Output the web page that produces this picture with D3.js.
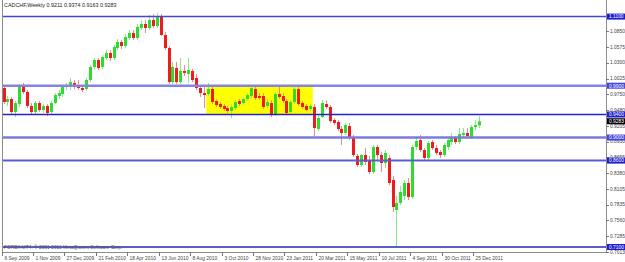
<!DOCTYPE html>
<html>
<head>
<meta charset="utf-8">
<script src="https://cdn.jsdelivr.net/npm/d3@7"></script>
<style>
  body { margin: 0; background: #ffffff; }
  svg { display: block; font-family: "Liberation Sans", Arial, sans-serif; }
</style>
</head>
<body>
<svg id="chart" width="625" height="262"></svg>
<script>
const titleText = "CADCHF,Weekly  0.9211 0.9374 0.9163 0.9283";
const copyrightText = "FOREX MT4, \u00a9 2001-2011 MetaQuotes Software Corp.";

// weekly bars, 6 Sep 2009 .. 1 Jan 2012
const opens = [
  0.9860, 0.9617, 0.9669, 0.9443, 0.9582, 0.9895, 0.9791, 0.9548, 0.9443, 0.9600,
  0.9478, 0.9548, 0.9443, 0.9600, 0.9721, 0.9756, 0.9877, 0.9895, 0.9947, 0.9895,
  0.9860, 0.9843, 0.9999, 1.0225, 1.0346, 1.0225, 1.0381, 1.0468, 1.0381, 1.0554,
  1.0659, 1.0589, 1.0728, 1.0815, 1.0728, 1.0902, 1.0971, 1.0902, 1.1041, 1.0936,
  1.1110, 1.0780, 1.0554, 0.9964, 1.0207, 0.9964, 1.0155, 1.0103, 1.0155, 1.0034,
  0.9860, 0.9773, 0.9756, 0.9843, 0.9634, 0.9582, 0.9548, 0.9513, 0.9461, 0.9513,
  0.9634, 0.9600, 0.9669, 0.9721, 0.9843, 0.9721, 0.9721, 0.9548, 0.9600, 0.9391,
  0.9756, 0.9721, 0.9634, 0.9443, 0.9617, 0.9843, 0.9600, 0.9548, 0.9496, 0.9530,
  0.9148, 0.9357, 0.9582, 0.9530, 0.9305, 0.9270, 0.9148, 0.9079, 0.9200, 0.9009,
  0.8680, 0.8523, 0.8697, 0.8610, 0.8402, 0.8836, 0.8697, 0.8558, 0.8645, 0.8263,
  0.7742, 0.7864, 0.7985, 0.8211, 0.7968, 0.8836, 0.8957, 0.8784, 0.8645, 0.8923,
  0.8819, 0.8749, 0.8697, 0.8836, 0.8923, 0.8992, 0.8923, 0.9044, 0.9079, 0.9009,
  0.9183, 0.9211
];
const highs = [
  0.9895, 0.9721, 0.9704, 0.9634, 0.9930, 0.9947, 0.9825, 0.9600, 0.9634, 0.9634,
  0.9582, 0.9582, 0.9634, 0.9773, 0.9825, 0.9912, 0.9947, 1.0034, 0.9999, 0.9999,
  0.9912, 1.0034, 1.0259, 1.0381, 1.0381, 1.0433, 1.0520, 1.0520, 1.0607, 1.0711,
  1.0693, 1.0798, 1.0867, 1.0867, 1.0971, 1.1041, 1.1041, 1.1127, 1.1145, 1.1162,
  1.1145, 1.0832, 1.0589, 1.0311, 1.0311, 1.0381, 1.0259, 1.0381, 1.0190, 1.0103,
  0.9895, 0.9895, 0.9947, 0.9895, 0.9669, 0.9617, 0.9582, 0.9548, 0.9582, 0.9652,
  0.9669, 0.9704, 0.9773, 0.9912, 0.9877, 0.9773, 0.9773, 0.9669, 0.9652, 0.9791,
  0.9895, 0.9773, 0.9669, 0.9652, 0.9877, 0.9895, 0.9634, 0.9582, 0.9582, 0.9582,
  0.9409, 0.9652, 0.9652, 0.9565, 0.9339, 0.9305, 0.9200, 0.9253, 0.9253, 0.9044,
  0.8714, 0.8714, 0.8819, 0.8680, 0.8871, 0.8871, 0.8749, 0.8784, 0.8697, 0.8332,
  0.7985, 0.8159, 0.8263, 0.8298, 0.8871, 0.8992, 0.9044, 0.8819, 0.8940, 0.8957,
  0.8871, 0.8784, 0.8905, 0.8992, 0.9079, 0.9027, 0.9166, 0.9166, 0.9166, 0.9218,
  0.9305, 0.9374
];
const lows = [
  0.9582, 0.9548, 0.9391, 0.9357, 0.9530, 0.9756, 0.9513, 0.9409, 0.9409, 0.9443,
  0.9426, 0.9374, 0.9409, 0.9582, 0.9669, 0.9704, 0.9825, 0.9825, 0.9843, 0.9825,
  0.9791, 0.9808, 0.9964, 1.0190, 1.0173, 1.0190, 1.0346, 1.0329, 1.0346, 1.0520,
  1.0537, 1.0554, 1.0693, 1.0693, 1.0693, 1.0867, 1.0815, 1.0867, 1.0902, 1.0902,
  1.0763, 1.0520, 0.9930, 0.9930, 0.9930, 0.9930, 1.0068, 0.9947, 0.9964, 0.9825,
  0.9704, 0.9513, 0.9721, 0.9582, 0.9530, 0.9496, 0.9461, 0.9426, 0.9339, 0.9478,
  0.9548, 0.9565, 0.9634, 0.9687, 0.9652, 0.9652, 0.9496, 0.9513, 0.9357, 0.9374,
  0.9669, 0.9600, 0.9391, 0.9426, 0.9582, 0.9548, 0.9496, 0.9461, 0.9461, 0.9009,
  0.9114, 0.9339, 0.9496, 0.9253, 0.9218, 0.9114, 0.8871, 0.9044, 0.8957, 0.8662,
  0.8489, 0.8489, 0.8523, 0.8367, 0.8367, 0.8610, 0.8402, 0.8471, 0.8176, 0.7708,
  0.7100, 0.7829, 0.7916, 0.7916, 0.7933, 0.8784, 0.8749, 0.8610, 0.8610, 0.8784,
  0.8697, 0.8645, 0.8662, 0.8784, 0.8871, 0.8888, 0.8888, 0.9009, 0.8992, 0.8975,
  0.9131, 0.9163
];
const closes = [
  0.9617, 0.9669, 0.9443, 0.9600, 0.9895, 0.9791, 0.9548, 0.9443, 0.9600, 0.9478,
  0.9548, 0.9426, 0.9600, 0.9739, 0.9773, 0.9895, 0.9912, 0.9964, 0.9877, 0.9860,
  0.9825, 0.9999, 1.0225, 1.0346, 1.0207, 1.0398, 1.0468, 1.0381, 1.0572, 1.0659,
  1.0589, 1.0745, 1.0815, 1.0728, 1.0919, 1.0971, 1.0902, 1.1041, 1.0936, 1.1110,
  1.0780, 1.0554, 0.9964, 1.0225, 0.9964, 1.0155, 1.0121, 1.0173, 0.9999, 0.9860,
  0.9773, 0.9739, 0.9843, 0.9617, 0.9565, 0.9530, 0.9496, 0.9461, 0.9530, 0.9617,
  0.9582, 0.9669, 0.9739, 0.9860, 0.9687, 0.9687, 0.9530, 0.9617, 0.9391, 0.9756,
  0.9704, 0.9634, 0.9426, 0.9617, 0.9843, 0.9582, 0.9530, 0.9478, 0.9548, 0.9166,
  0.9339, 0.9600, 0.9530, 0.9287, 0.9253, 0.9148, 0.9079, 0.9218, 0.8992, 0.8697,
  0.8523, 0.8697, 0.8576, 0.8402, 0.8836, 0.8697, 0.8558, 0.8732, 0.8211, 0.7794,
  0.7864, 0.8055, 0.8211, 0.7968, 0.8836, 0.8940, 0.8784, 0.8645, 0.8905, 0.8819,
  0.8732, 0.8697, 0.8871, 0.8957, 0.9009, 0.8923, 0.9062, 0.9079, 0.9027, 0.9183,
  0.9218, 0.9283
];

// one label every 8 weekly bars
const dateLabels = [
  "6 Sep 2009", "1 Nov 2009", "27 Dec 2009", "21 Feb 2010", "18 Apr 2010", "13 Jun 2010",
  "8 Aug 2010", "3 Oct 2010", "28 Nov 2010", "23 Jan 2011", "20 Mar 2011", "15 May 2011",
  "10 Jul 2011", "4 Sep 2011", "30 Oct 2011", "25 Dec 2011"
];
const priceTicks = [1.0850, 1.0575, 1.0300, 1.0025, 0.9750, 0.9480, 0.9205, 0.8930,
  0.8655, 0.8380, 0.8105, 0.7835, 0.7560, 0.7285, 0.7013];
const levelPrices = [1.1100, 0.9900, 0.9400, 0.9000, 0.8600, 0.7100];
const levelColors = ["#4646d6", "#8484e2", "#2424c2", "#7a7ade", "#5c5cd2", "#2626bc"];
const levelWidths = [1.5, 2.5, 1.5, 2.5, 2, 1.5];
const boxBars = [51.6, 78.7];
const boxPrices = [0.9900, 0.9400];
const lastClose = 0.9283;

const svg = d3.select("#chart");
const plotLeft = 2, plotRight = 606, plotTop = 0, plotBottom = 252;
const fontSize = 4.9;

const x = d3.scaleLinear().domain([0, 121]).range([3.5, 479]);
const y = d3.scaleLinear().domain([0.7013, 1.1388]).range([plotBottom, plotTop]);

const bars = opens.map((o, i) => ({ i, o, h: highs[i], l: lows[i], c: closes[i] }));

// yellow rectangle (background object)
svg.append("rect")
  .attr("x", x(boxBars[0]))
  .attr("y", y(boxPrices[0]))
  .attr("width", x(boxBars[1]) - x(boxBars[0]))
  .attr("height", y(boxPrices[1]) - y(boxPrices[0]))
  .attr("fill", "#ffff00");

// candles
const candle = svg.append("g").selectAll("g")
  .data(bars)
  .join("g");

candle.append("line")
  .attr("x1", d => Math.round(x(d.i)) + 0.5)
  .attr("x2", d => Math.round(x(d.i)) + 0.5)
  .attr("y1", d => y(d.h))
  .attr("y2", d => y(d.l))
  .attr("stroke", d => d.c >= d.o ? "#8ae88a" : "#f08a8a")
  .attr("stroke-width", 1);

candle.append("rect")
  .attr("x", d => Math.round(x(d.i)) - 1)
  .attr("width", 3)
  .attr("y", d => y(Math.max(d.o, d.c)))
  .attr("height", d => Math.max(1, Math.abs(y(d.o) - y(d.c))))
  .attr("fill", d => d.c >= d.o ? "#2edc2e" : "#ee1c1c");

// horizontal level lines
svg.append("g").selectAll("line")
  .data(levelPrices)
  .join("line")
  .attr("x1", plotLeft)
  .attr("x2", plotRight)
  .attr("y1", d => y(d))
  .attr("y2", d => y(d))
  .attr("stroke", (d, i) => levelColors[i])
  .attr("stroke-width", (d, i) => levelWidths[i]);

// frame
svg.append("path")
  .attr("d", `M${plotLeft + 0.5},${plotTop} V${plotBottom + 0.5} H${plotRight + 0.5} V${plotTop}`)
  .attr("fill", "none")
  .attr("stroke", "#8c8c8c")
  .attr("stroke-width", 1);

// right price axis
const priceAxis = svg.append("g").attr("font-size", fontSize).attr("fill", "#444");
priceTicks.forEach(p => {
  priceAxis.append("line")
    .attr("x1", plotRight).attr("x2", plotRight + 3)
    .attr("y1", Math.round(y(p)) + 0.5).attr("y2", Math.round(y(p)) + 0.5)
    .attr("stroke", "#777");
  priceAxis.append("text")
    .attr("x", plotRight + 4)
    .attr("y", y(p) + 1.8)
    .text(p.toFixed(4));
});

// level labels on the scale
const labelG = svg.append("g").attr("font-size", fontSize);
levelPrices.forEach((p, i) => {
  labelG.append("rect")
    .attr("x", plotRight + 1).attr("y", y(p) - 3)
    .attr("width", 18).attr("height", 6)
    .attr("fill", i === 1 || i === 3 ? "#4646dc" : "#1e1ed0");
  labelG.append("text")
    .attr("x", plotRight + 3).attr("y", y(p) + 1.8)
    .attr("fill", "#ffffff")
    .text(p.toFixed(4));
});
labelG.append("rect")
  .attr("x", plotRight + 1).attr("y", y(lastClose) - 3)
  .attr("width", 18).attr("height", 6)
  .attr("fill", "#000000");
labelG.append("text")
  .attr("x", plotRight + 3).attr("y", y(lastClose) + 1.8)
  .attr("fill", "#ffffff")
  .text(lastClose.toFixed(4));

// bottom time axis
const timeAxis = svg.append("g").attr("font-size", fontSize).attr("fill", "#444");
dateLabels.forEach((label, k) => {
  const tx = Math.round(x(k * 8)) - 1.5;
  timeAxis.append("line")
    .attr("x1", tx).attr("x2", tx)
    .attr("y1", plotBottom).attr("y2", plotBottom + 4)
    .attr("stroke", "#777");
  timeAxis.append("text")
    .attr("x", tx + 2)
    .attr("y", plotBottom + 7.5)
    .text(label);
});

// texts inside the chart
svg.append("text")
  .attr("x", 4).attr("y", 7)
  .attr("font-size", 5.4)
  .attr("fill", "#222")
  .text(titleText);

svg.append("text")
  .attr("x", 4).attr("y", 249)
  .attr("font-size", 4.8)
  .attr("fill", "#555")
  .text(copyrightText);
</script>
</body>
</html>
